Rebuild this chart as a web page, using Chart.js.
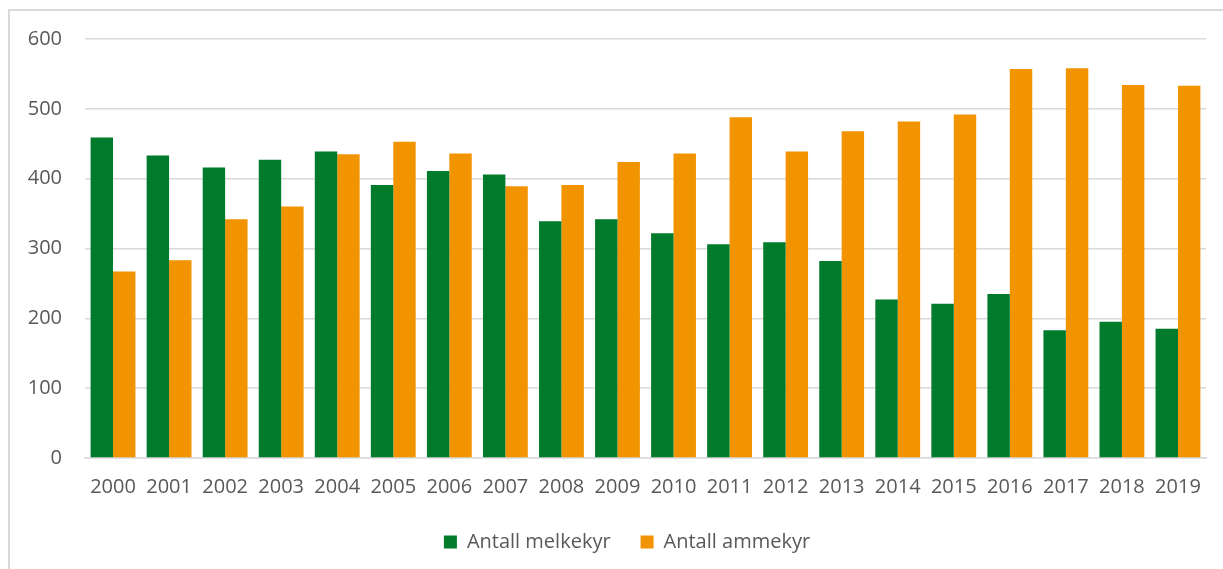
<!DOCTYPE html>
<html>
<head>
<meta charset="utf-8">
<script src="https://cdn.jsdelivr.net/npm/chart.js@4"></script>
<style>
  html, body { margin: 0; padding: 0; background: #fff; }
  #wrap { position: relative; width: 1223px; height: 569px; }
</style>
</head>
<body>
<div id="wrap"><canvas id="myChart" width="1223" height="569"></canvas></div>
<script>
const years = ['2000', '2001', '2002', '2003', '2004', '2005', '2006', '2007', '2008', '2009',
  '2010', '2011', '2012', '2013', '2014', '2015', '2016', '2017', '2018', '2019'];
const melkekyr = [459, 433, 416, 427, 439, 391, 411, 406, 339, 342, 322, 306, 309, 282, 227, 221, 235, 183, 195, 185];
const ammekyr = [267, 283, 342, 360, 435, 453, 436, 389, 391, 424, 436, 488, 439, 468, 482, 492, 557, 558, 534, 533];
const yTicks = [0, 100, 200, 300, 400, 500, 600];

const green = '#007a2b';
const orange = '#f29400';
const textColor = '#595959';
const gridColor = '#d9d9d9';

// light frame round the chart (left and top edges only, like the original)
// and nudge the legend a bit right so it sits where the original has it
const frame = {
  id: 'frame',
  afterLayout(chart) {
    chart.legend.left += 24;
    chart.legend.right += 24;
  },
  beforeDraw(chart) {
    const c = chart.ctx;
    c.save();
    c.strokeStyle = gridColor;
    c.lineWidth = 2;
    c.beginPath();
    c.moveTo(9, chart.height);
    c.lineTo(9, 10);
    c.lineTo(chart.width, 10);
    c.stroke();
    c.restore();
  }
};

const ctx = document.getElementById('myChart');
Chart.defaults.font.family = '"Open Sans", "Liberation Sans", sans-serif';
Chart.defaults.font.size = 20;
Chart.defaults.color = textColor;

new Chart(ctx, {
  type: 'bar',
  data: {
    labels: years,
    datasets: [{
      label: 'Antall melkekyr',
      data: melkekyr,
      backgroundColor: green,
      borderWidth: 0
    }, {
      label: 'Antall ammekyr',
      data: ammekyr,
      backgroundColor: orange,
      borderWidth: 0
    }]
  },
  options: {
    responsive: false,
    animation: false,
    devicePixelRatio: 1,
    categoryPercentage: 0.8,
    barPercentage: 1.0,
    layout: {
      padding: { left: 0, right: 17, top: 39, bottom: 7 }
    },
    plugins: {
      tooltip: { enabled: false },
      legend: {
        position: 'bottom',
        labels: {
          boxWidth: 13,
          boxHeight: 13,
          padding: 30,
          color: textColor
        }
      }
    },
    scales: {
      x: {
        grid: { display: false, drawTicks: false, tickLength: 0 },
        border: { display: true, color: gridColor, width: 1.5 },
        ticks: { padding: 17, maxRotation: 0, autoSkip: false },
        afterFit: (scale) => { scale.height = 44; }
      },
      y: {
        min: yTicks[0],
        max: yTicks[yTicks.length - 1],
        grid: { color: gridColor, lineWidth: 1.5, drawTicks: false, tickLength: 0 },
        border: { display: false },
        ticks: { stepSize: yTicks[1] - yTicks[0], padding: 23 },
        afterFit: (scale) => { scale.width = 85; }
      }
    }
  },
  plugins: [frame]
});
</script>
</body>
</html>
